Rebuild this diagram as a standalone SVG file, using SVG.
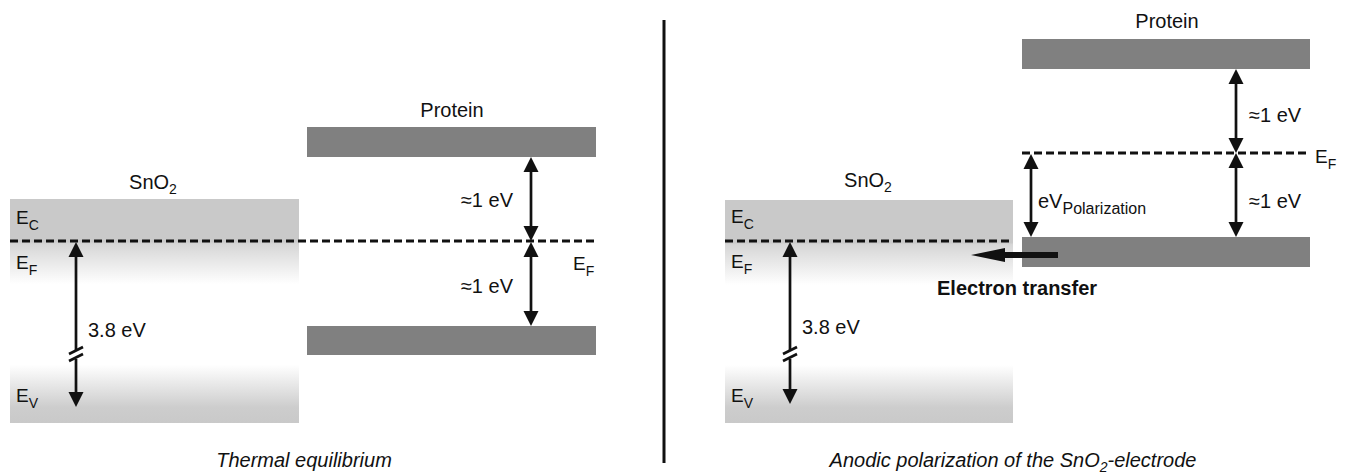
<svg xmlns="http://www.w3.org/2000/svg" width="1348" height="474" viewBox="0 0 1348 474">
<style>
text{font-family:"Liberation Sans",Arial,sans-serif;fill:#111;}
.lbl{font-size:20px;}
.e{font-size:19px;}
.sub{font-size:14px;}
.cap{font-size:20px;font-style:italic;}
.band{fill:#808080;}
.sno2{fill:url(#snGrad);}
.fermi{stroke:#111;stroke-width:3;stroke-dasharray:8 4;fill:none;}
.arr{stroke:#111;stroke-width:2.7;fill:none;marker-start:url(#ah);marker-end:url(#ah);}
.arrS{stroke:#111;stroke-width:2.7;fill:none;marker-start:url(#ah);}
.arrE{stroke:#111;stroke-width:2.7;fill:none;marker-end:url(#ah);}
.brk{stroke:#111;stroke-width:2.7;fill:none;}
</style>
<defs>
<linearGradient id="snGrad" x1="0" y1="0" x2="0" y2="1">
<stop offset="0" stop-color="#c9c9c9"/>
<stop offset="0.19" stop-color="#c9c9c9"/>
<stop offset="0.2" stop-color="#d6d6d6"/>
<stop offset="0.38" stop-color="#ffffff"/>
<stop offset="0.74" stop-color="#ffffff"/>
<stop offset="0.93" stop-color="#cdcdcd"/>
<stop offset="1" stop-color="#c9c9c9"/>
</linearGradient>
<marker id="ah" markerUnits="userSpaceOnUse" markerWidth="16" markerHeight="16" viewBox="0 -8 16 16" refX="7" refY="0" orient="auto-start-reverse">
<path d="M0,-7.5 L15,0 L0,7.5 z" fill="#111"/>
</marker>
<marker id="bigah" markerUnits="userSpaceOnUse" markerWidth="36" markerHeight="16" viewBox="0 -8 36 16" refX="2" refY="0" orient="auto">
<path d="M0,-7 L34,0 L0,7 z" fill="#111"/>
</marker>
</defs>
<rect width="1348" height="474" fill="#ffffff"/>

<g id="left-sno2">
<rect class="sno2" x="10" y="199" width="289" height="224"/>
<text class="lbl" x="153" y="189" text-anchor="middle">SnO<tspan class="sub" dy="5">2</tspan></text>
<text class="e" x="16" y="224">E<tspan class="sub" dy="6">C</tspan></text>
<text class="e" x="16" y="269">E<tspan class="sub" dy="6">F</tspan></text>
<text class="e" x="16" y="402">E<tspan class="sub" dy="6">V</tspan></text>
</g>

<g id="left-protein">
<rect class="band" x="307" y="127" width="289" height="30"/>
<rect class="band" x="307" y="326" width="289" height="29"/>
<text class="lbl" x="452" y="117" text-anchor="middle">Protein</text>
<text class="e" x="573" y="270">E<tspan class="sub" dy="6">F</tspan></text>
</g>

<g id="right-sno2">
<rect class="sno2" x="725" y="200" width="288" height="223"/>
<text class="lbl" x="868" y="187" text-anchor="middle">SnO<tspan class="sub" dy="5">2</tspan></text>
<text class="e" x="731" y="223">E<tspan class="sub" dy="6">C</tspan></text>
<text class="e" x="731" y="268">E<tspan class="sub" dy="6">F</tspan></text>
<text class="e" x="731" y="402">E<tspan class="sub" dy="6">V</tspan></text>
</g>

<g id="right-protein">
<rect class="band" x="1022" y="39" width="288" height="30"/>
<rect class="band" x="1022" y="237" width="288" height="30"/>
<text class="lbl" x="1167" y="28" text-anchor="middle">Protein</text>
<text class="e" x="1315" y="163">E<tspan class="sub" dy="6">F</tspan></text>
</g>

<g id="fermi-levels">
<line class="fermi" x1="10" y1="241" x2="597" y2="241"/>
<line class="fermi" x1="725" y1="241" x2="1013" y2="241"/>
<line class="fermi" x1="1022" y1="153" x2="1310" y2="153"/>
</g>

<g id="connectors">
<line class="arrS" x1="76" y1="250" x2="76" y2="350"/>
<line class="arrE" x1="76" y1="359" x2="76" y2="399"/>
<path class="brk" d="M69,354 L83,347 M69,361 L83,354"/>
<line class="arr" x1="531" y1="165" x2="531" y2="233"/>
<line class="arr" x1="531" y1="250" x2="531" y2="318"/>

<line class="arrS" x1="790" y1="250" x2="790" y2="350"/>
<line class="arrE" x1="790" y1="359" x2="790" y2="396"/>
<path class="brk" d="M783,354 L797,347 M783,361 L797,354"/>
<line class="arr" x1="1236" y1="77" x2="1236" y2="145"/>
<line class="arr" x1="1236" y1="161" x2="1236" y2="229"/>
<line class="arr" x1="1031" y1="162" x2="1031" y2="229"/>
<line x1="1058" y1="255" x2="1003" y2="255" stroke="#111" stroke-width="6" marker-end="url(#bigah)"/>
</g>

<g id="labels">
<text class="lbl" x="513" y="207" text-anchor="end">≈1 eV</text>
<text class="lbl" x="513" y="293" text-anchor="end">≈1 eV</text>
<text class="lbl" x="88" y="337">3.8 eV</text>
<text class="lbl" x="802" y="334">3.8 eV</text>
<text class="lbl" x="1249" y="122">≈1 eV</text>
<text class="lbl" x="1249" y="208">≈1 eV</text>
<text class="lbl" x="1038" y="208">eV<tspan font-size="16" dy="6">Polarization</tspan></text>
<text class="lbl" x="937" y="295" font-weight="bold">Electron transfer</text>
</g>

<g id="divider">
<line x1="664" y1="20" x2="664" y2="463" stroke="#111" stroke-width="3"/>
</g>

<g id="captions">
<text class="cap" x="304" y="467" text-anchor="middle">Thermal equilibrium</text>
<text class="cap" x="1013" y="467" text-anchor="middle">Anodic polarization of the SnO<tspan font-size="14" dy="5">2</tspan><tspan dy="-5">-electrode</tspan></text>
</g>
</svg>
